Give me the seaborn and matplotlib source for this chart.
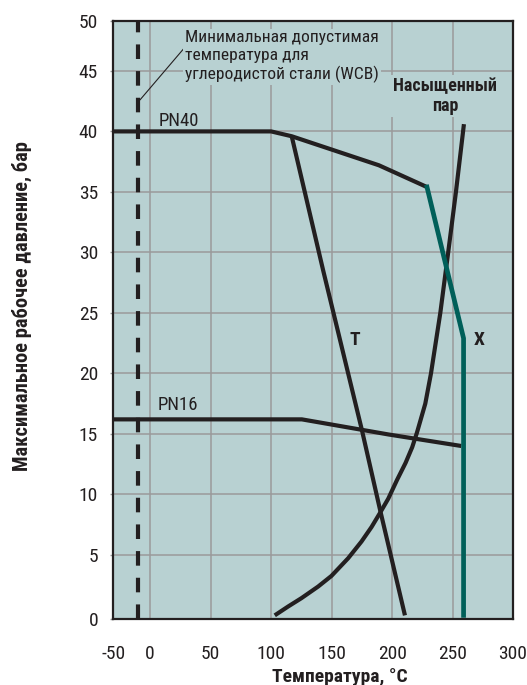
import matplotlib
matplotlib.use("Agg")
import matplotlib.pyplot as plt
import seaborn as sns
import pandas as pd

# ---------------- data ----------------
pn40_temp = [-30.3, 100, 117, 189, 228.7]
pn40_pres = [40, 40, 39.6, 37.2, 35.4]

x_temp = [228.7, 258.9, 258.9]
x_pres = [35.4, 22.9, 0]

pn16_temp = [-30.3, 125.4, 197, 257]
pn16_pres = [16.2, 16.2, 14.95, 14.0]

t_temp = [117, 143, 175, 190, 210.5]
t_pres = [39.6, 28.5, 15.3, 8.7, 0]

steam_temp = [103, 114, 125, 138.8, 149.8, 163.6, 174.6, 182.9, 189.8, 196.7, 204,
              211, 216.5, 220.4, 227.3, 232, 239.7, 246.2, 252.6, 259.2]
steam_pres = [0, 0.73, 1.42, 2.38, 3.26, 4.72, 6.1, 7.3, 8.45, 9.64, 11.2,
              12.6, 13.9, 15.1, 17.5, 20, 25, 30, 35, 40.6]

wcb_temp = -10
leader_temp = [-8.3, 27.5]
leader_pres = [42.6, 46.8]

x_range = [-30.3, 299.3]
y_range = [-0.3, 49.15]
x_tick_pos = [-30.3, 0, 50, 100, 150, 200, 250, 299.3]
x_tick_labels = ["-50", "0", "50", "100", "150", "200", "250", "300"]
y_tick_pos = [-0.3, 5, 10, 15, 20, 25, 30, 35, 40, 45, 49.15]
y_tick_labels = ["0", "5", "10", "15", "20", "25", "30", "35", "40", "45", "50"]

# ---------------- style ----------------
sns.set_theme(style="white")
plt.rcParams["font.family"] = ["Roboto Condensed", "DejaVu Sans"]

BG = "#b8d1d2"
INK = "#231f20"
TEAL = "#005f59"
GRID = "#9a9a9a"

W, H = 527, 685
fig = plt.figure(figsize=(W / 100, H / 100), dpi=100)
fig.patch.set_facecolor("white")
ax = fig.add_axes([113.3 / W, 1 - 619 / H, 399.2 / W, 598.3 / H])
ax.set_facecolor(BG)

ax.set_xlim(*x_range)
ax.set_ylim(*y_range)
ax.set_xticks(x_tick_pos)
ax.set_xticklabels(x_tick_labels)
ax.set_yticks(y_tick_pos)
ax.set_yticklabels(y_tick_labels)
ax.grid(True, color=GRID, linewidth=1.1)
ax.set_axisbelow(True)
for s in ax.spines.values():
    s.set_color(INK)
    s.set_linewidth(1.6)

ax.tick_params(axis="x", length=0, pad=18.5, labelsize=14, colors=INK)
ax.tick_params(axis="y", length=2.5, width=1, color=GRID, pad=8.5, labelsize=14,
               labelcolor=INK, left=True)

# ---------------- lines ----------------
def poly(xs, ys, color, lw=3.0, **kw):
    df = pd.DataFrame({"t": xs, "p": ys})
    sns.lineplot(data=df, x="t", y="p", sort=False, estimator=None, ax=ax,
                 color=color, linewidth=lw, solid_joinstyle="round", **kw)

poly(pn40_temp, pn40_pres, INK, solid_capstyle="butt")
poly(pn16_temp, pn16_pres, INK, solid_capstyle="butt")
poly(t_temp, t_pres, INK, solid_capstyle="butt")
poly(steam_temp, steam_pres, INK, solid_capstyle="butt")
poly(x_temp, x_pres, TEAL, lw=3.4, solid_capstyle="projecting")
poly(leader_temp, leader_pres, INK, lw=0.8)

ax.axvline(wcb_temp, color=INK, linewidth=3, dashes=(3.5, 2.9), zorder=3)

# ---------------- texts ----------------
box = dict(facecolor=BG, edgecolor="none", pad=1.5)
ax.text(28.9, 48.4, "Минимальная допустимая\nтемпература для\nуглеродистой стали (WCB)",
        fontsize=12.6, color=INK, ha="left", va="top", linespacing=1.25, bbox=box)
ax.text(243.8, 44.5, "Насыщенный\nпар", fontsize=13, fontweight="bold", color=INK,
        ha="center", va="top", multialignment="center", linespacing=1.12, bbox=box)
ax.text(7.4, 40.9, "PN40", fontsize=13.5, color=INK, ha="left", va="center")
ax.text(6.6, 17.4, "PN16", fontsize=13.5, color=INK, ha="left", va="center")
ax.text(169.4, 22.8, "T", fontsize=14, fontweight="bold", color=INK, ha="center", va="center")
ax.text(272.1, 22.8, "X", fontsize=14, fontweight="bold", color=INK, ha="center", va="center")

ax.set_xlabel("Температура, °C", fontsize=14, fontweight="bold", color=INK)
ax.set_ylabel("Максимальное рабочее давление, бар", fontsize=14.8, fontweight="bold", color=INK)
ax.xaxis.set_label_coords((340 - 113.3) / 399.2, (619 - 668) / 598.3)
ax.yaxis.set_label_coords((32 - 113.3) / 399.2, (619 - 306) / 598.3)

fig.savefig("out.png", dpi=100, facecolor="white")
